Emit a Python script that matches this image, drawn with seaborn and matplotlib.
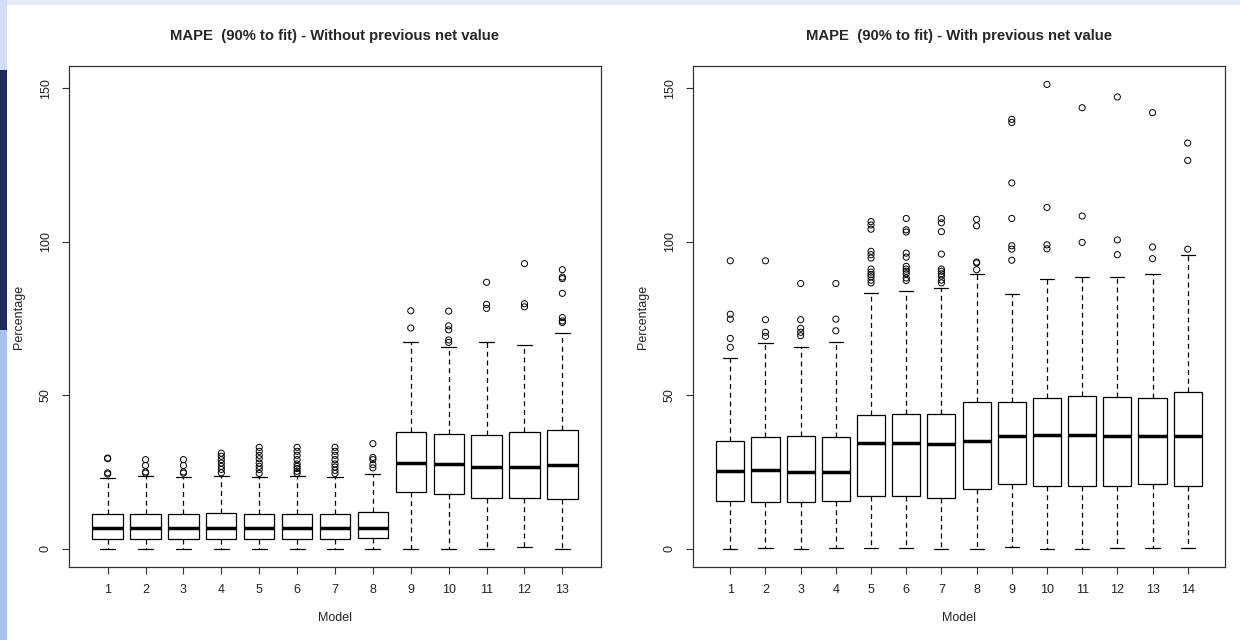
import numpy as np
import pandas as pd
import matplotlib
matplotlib.use("Agg")
import matplotlib.pyplot as plt
import seaborn as sns
from matplotlib.patches import Rectangle

# Box statistics: lower whisker, Q1, median, Q3, upper whisker
models_a = [str(i) for i in range(1, 14)]
lo_a = [0, 0, 0, 0, 0, 0, 0, 0, 0, 0, 0, 0.5, 0]
q1_a = [3.2, 3.0, 3.0, 3.2, 3.2, 3.2, 3.2, 3.4, 18.4, 17.7, 16.4, 16.4, 16.1]
med_a = [6.8, 6.8, 6.8, 6.8, 6.8, 6.8, 6.8, 6.8, 28.0, 27.5, 26.5, 26.7, 27.3]
q3_a = [11.2, 11.2, 11.2, 11.6, 11.4, 11.4, 11.4, 11.8, 38.1, 37.3, 37.1, 37.9, 38.6]
hi_a = [23.0, 23.5, 23.3, 23.5, 23.3, 23.5, 23.3, 24.3, 67.4, 65.7, 67.4, 66.4, 70.2]
out_a = [
    [29.5, 29.3, 24.7, 24.3],
    [29.0, 27.1, 25.0, 24.6],
    [29.0, 27.1, 25.0, 24.6],
    [31.1, 30.1, 29.0, 27.9, 26.8, 25.8, 24.7],
    [33.0, 31.7, 30.4, 29.3, 27.9, 26.8, 25.8, 24.5],
    [33.0, 31.7, 30.4, 29.0, 27.6, 26.8, 26.1, 25.2, 24.5],
    [33.0, 31.7, 30.4, 29.0, 27.6, 26.6, 25.5, 24.5],
    [34.2, 29.7, 29.0, 27.4, 26.3],
    [77.5, 71.9],
    [77.4, 72.6, 71.3, 68.0, 67.2],
    [86.8, 79.6, 78.3],
    [92.9, 79.8, 78.8],
    [90.9, 88.5, 88.0, 83.2, 75.3, 74.2, 73.7],
]

models_b = [str(i) for i in range(1, 15)]
lo_b = [0, 0.3, 0, 0.3, 0.3, 0.3, 0, 0, 0.5, 0, 0, 0.3, 0.3, 0.3]
q1_b = [15.4, 15.1, 15.1, 15.4, 17.2, 17.2, 16.4, 19.5, 20.9, 20.3, 20.3, 20.3, 20.9, 20.3]
med_b = [25.2, 25.5, 25.0, 25.0, 34.3, 34.3, 34.0, 35.1, 36.6, 37.1, 37.1, 36.6, 36.6, 36.8]
q3_b = [35.1, 36.4, 36.6, 36.4, 43.7, 44.0, 44.0, 47.9, 47.9, 49.1, 49.7, 49.3, 49.0, 51.0]
hi_b = [62.2, 66.9, 65.7, 67.4, 83.2, 83.9, 84.8, 89.6, 82.9, 87.9, 88.5, 88.5, 89.5, 95.8]
out_b = [
    [93.8, 76.4, 74.8, 68.5, 65.6],
    [93.8, 74.6, 70.5, 69.2],
    [86.4, 74.6, 71.8, 70.5, 69.4],
    [86.4, 74.8, 71.0],
    [106.6, 105.5, 104.1, 96.9, 95.8, 94.7, 91.1, 90.1, 89.3, 88.6, 87.5, 86.6],
    [107.6, 103.9, 103.2, 96.3, 95.0, 92.0, 91.1, 90.4, 89.6, 88.2, 87.4],
    [107.6, 106.2, 103.3, 96.0, 91.1, 90.4, 89.6, 88.8, 87.5, 86.6],
    [107.3, 105.2, 93.4, 93.1, 90.9],
    [139.9, 138.9, 119.2, 107.6, 98.7, 97.6, 94.0],
    [151.3, 111.2, 99.0, 97.7],
    [143.7, 108.4, 99.8],
    [147.2, 100.6, 95.8],
    [142.1, 98.3, 94.5],
    [132.2, 126.5, 97.6],
]

titles = ["MAPE  (90% to fit) - Without previous net value",
          "MAPE  (90% to fit) - With previous net value"]

sns.set_style("ticks")
plt.rcParams["font.family"] = ["Liberation Sans", "DejaVu Sans"]

fig = plt.figure(figsize=(12.4, 6.4), dpi=100)
fig.patch.set_facecolor("#e4ebf9")

# slide background: white page, decorated left edge
fig.add_artist(Rectangle((7 / 1240, 0), 1, 635 / 640, transform=fig.transFigure,
                         facecolor="white", edgecolor="none", zorder=0))
fig.add_artist(Rectangle((0, 0), 7 / 1240, 310 / 640, transform=fig.transFigure,
                         facecolor="#a7c1ee", edgecolor="none", zorder=0))
fig.add_artist(Rectangle((0, 310 / 640), 7 / 1240, 260 / 640, transform=fig.transFigure,
                         facecolor="#1f2a5c", edgecolor="none", zorder=0))
fig.add_artist(Rectangle((0, 570 / 640), 7 / 1240, 70 / 640, transform=fig.transFigure,
                         facecolor="#d3ddf5", edgecolor="none", zorder=0))

ax1 = fig.add_axes([69 / 1240, 73 / 640, 532 / 1240, 501 / 640])
ax2 = fig.add_axes([693 / 1240, 73 / 640, 532 / 1240, 501 / 640])


def draw_panel(ax, models, lo, q1, med, q3, hi, outliers, title):
    stats = np.column_stack([lo, q1, med, q3, hi])
    box_df = pd.DataFrame({
        "Model": np.repeat(models, 5),
        "Percentage": stats.ravel(),
    })
    out_df = pd.DataFrame({
        "Model": [m for m, vals in zip(models, outliers) for v in vals],
        "Percentage": [v for vals in outliers for v in vals],
    })
    sns.boxplot(data=box_df, x="Model", y="Percentage", order=models,
                whis=(0, 100), width=0.8, color="white", linecolor="black",
                linewidth=0.9, showfliers=False, saturation=1,
                medianprops=dict(linewidth=2.5),
                whiskerprops=dict(linestyle=(0, (4, 3))),
                ax=ax)
    sns.stripplot(data=out_df, x="Model", y="Percentage", order=models,
                  jitter=False, color="black", facecolor="none",
                  edgecolor="black", linewidth=0.7, size=4.4, ax=ax)
    for coll in ax.collections:
        coll.set_facecolor("none")

    # R extends the axis range by 4% on each side
    n = len(models)
    pad = 0.04 * n
    ax.set_xlim(-0.5 - pad, n - 0.5 + pad)
    ax.set_ylim(-6.0, 157.3)
    ax.set_yticks([0, 50, 100, 150])
    ax.set_yticklabels(["0", "50", "100", "150"], rotation=90, va="center")
    ax.set_xlabel("Model", fontsize=9, color="#222222")
    ax.set_ylabel("Percentage", fontsize=9, color="#222222")
    ax.xaxis.set_label_coords(0.5, -0.09)
    ax.yaxis.set_label_coords(-0.082, 0.5)
    ax.tick_params(axis="both", direction="out", length=5, width=0.8,
                   color="#333333", labelsize=9, labelcolor="#222222")
    ax.tick_params(axis="x", pad=7)
    ax.tick_params(axis="y", pad=7.5)
    for side in ["left", "right", "top", "bottom"]:
        ax.spines[side].set_visible(True)
        ax.spines[side].set_color("#333333")
        ax.spines[side].set_linewidth(0.9)
    ax.set_title(title, fontsize=10.7, fontweight="bold", y=1 + 30 / 501,
                 va="center", pad=0)
    ax.set_facecolor("white")


draw_panel(ax1, models_a, lo_a, q1_a, med_a, q3_a, hi_a, out_a, titles[0])
draw_panel(ax2, models_b, lo_b, q1_b, med_b, q3_b, hi_b, out_b, titles[1])

fig.savefig("out.png", dpi=100, facecolor=fig.get_facecolor())
